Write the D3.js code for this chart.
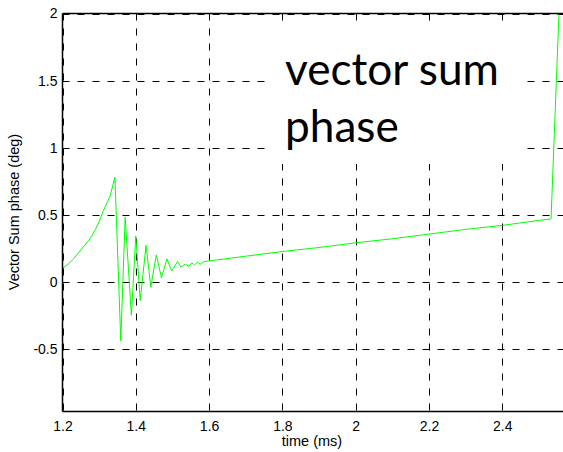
<!DOCTYPE html>
<html>
<head>
<meta charset="utf-8">
<script src="https://cdn.jsdelivr.net/npm/d3@7"></script>
<style>
  html, body { margin: 0; padding: 0; background: #fff; }
  svg { display: block; }
</style>
</head>
<body>
<svg id="chart" width="563" height="452"></svg>
<script>
// Vector sum phase over time
const timeMs = [
  1.200, 1.215, 1.230, 1.245, 1.260, 1.275, 1.290, 1.300, 1.310, 1.320, 1.330, 1.343,
  1.359, 1.371, 1.388, 1.400, 1.412, 1.428, 1.441, 1.456, 1.470, 1.485, 1.498, 1.514,
  1.523, 1.535, 1.545, 1.553, 1.560, 1.568, 1.576, 1.585, 1.600, 1.700, 1.800, 1.900,
  2.000, 2.100, 2.200, 2.300, 2.400, 2.500, 2.533, 2.5546
];
const phaseDeg = [
  0.10, 0.13, 0.17, 0.22, 0.27, 0.32, 0.39, 0.45, 0.52, 0.58, 0.64, 0.78,
  -0.44, 0.48, -0.25, 0.34, -0.14, 0.27, -0.04, 0.20, 0.03, 0.17, 0.08, 0.15,
  0.11, 0.13, 0.115, 0.14, 0.125, 0.145, 0.13, 0.15, 0.155, 0.19, 0.225, 0.255,
  0.29, 0.32, 0.355, 0.39, 0.42, 0.457, 0.468, 2.0
];
const xTicks = [1.2, 1.4, 1.6, 1.8, 2, 2.2, 2.4];
const yTicks = [-0.5, 0, 0.5, 1, 1.5, 2];
const xDomain = [1.2, 2.6];
const yDomain = [-0.968, 2];
const titleLines = ["vector sum", "phase"];

(function () {
  const svg = d3.select("#chart");
  const W = 563;
  const padLeft = 62.5, padTop = 13.5, padBottom = 411.5;
  const pxPerMs = 366.5;

  const x = d3.scaleLinear().domain(xDomain).range([padLeft, padLeft + (xDomain[1] - xDomain[0]) * pxPerMs]);
  const y = d3.scaleLinear().domain(yDomain).range([padBottom, padTop]);

  const tickFont = "Liberation Sans, Arial, sans-serif";
  const fmt = d => String(d);

  // clip region for the plot
  svg.append("defs").append("clipPath").attr("id", "plotClip")
    .append("rect").attr("x", padLeft).attr("y", padTop - 1)
    .attr("width", W - padLeft).attr("height", padBottom - padTop + 1);

  const plot = svg.append("g").attr("clip-path", "url(#plotClip)");

  // dashed grid
  const dash = "7,8";
  plot.selectAll("line.vg").data(xTicks).join("line")
    .attr("class", "vg")
    .attr("x1", d => Math.round(x(d)) + 0.5).attr("x2", d => Math.round(x(d)) + 0.5)
    .attr("y1", padTop).attr("y2", padBottom)
    .attr("stroke", "#000").attr("stroke-width", 1).attr("stroke-dasharray", dash);
  plot.selectAll("line.hg").data(yTicks).join("line")
    .attr("class", "hg")
    .attr("x1", padLeft).attr("x2", W)
    .attr("y1", d => Math.round(y(d)) + 0.5).attr("y2", d => Math.round(y(d)) + 0.5)
    .attr("stroke", "#000").attr("stroke-width", 1).attr("stroke-dasharray", dash);

  // data line
  const line = d3.line().x((d, i) => x(timeMs[i])).y(d => y(d));
  plot.append("path")
    .attr("d", line(phaseDeg))
    .attr("fill", "none")
    .attr("stroke", "#00ff00")
    .attr("stroke-width", 1);

  // plot frame: left, bottom and top edges
  svg.append("line").attr("x1", padLeft).attr("x2", padLeft).attr("y1", padTop).attr("y2", padBottom)
    .attr("stroke", "#000").attr("stroke-width", 1.5);
  svg.append("line").attr("x1", padLeft).attr("x2", W).attr("y1", padBottom).attr("y2", padBottom)
    .attr("stroke", "#000").attr("stroke-width", 1.5);
  svg.append("line").attr("x1", padLeft).attr("x2", W).attr("y1", padTop).attr("y2", padTop)
    .attr("stroke", "#000").attr("stroke-width", 1.5);

  // tick labels
  const xAxis = d3.axisBottom(x).tickValues(xTicks).tickSize(0).tickPadding(10).tickFormat(fmt);
  const gx = svg.append("g").attr("transform", `translate(0,${padBottom})`).call(xAxis);
  gx.select(".domain").remove();
  gx.selectAll("text").attr("font-family", tickFont).attr("font-size", 14).attr("fill", "#000");

  const yAxis = d3.axisLeft(y).tickValues(yTicks).tickSize(0).tickPadding(5).tickFormat(fmt);
  const gy = svg.append("g").attr("transform", `translate(${padLeft},0)`).call(yAxis);
  gy.select(".domain").remove();
  gy.selectAll("text").attr("font-family", tickFont).attr("font-size", 14).attr("fill", "#000");

  // axis titles
  svg.append("text").attr("x", 312).attr("y", 446)
    .attr("text-anchor", "middle").attr("font-family", tickFont).attr("font-size", 14.5)
    .text("time (ms)");
  svg.append("text").attr("transform", "translate(19,212) rotate(-90)")
    .attr("text-anchor", "middle").attr("font-family", tickFont).attr("font-size", 14.5)
    .text("Vector Sum phase (deg)");

  // annotation box
  svg.append("rect").attr("x", 266).attr("y", 28).attr("width", 257).attr("height", 136)
    .attr("fill", "#fff");
  const title = svg.append("g");
  titleLines.forEach((t, i) => {
    title.append("text")
      .attr("x", 285).attr("y", 85 + i * 57)
      .attr("font-family", "Lato, 'Open Sans', sans-serif")
      .attr("font-size", 46).attr("fill", "#000")
      .text(t);
  });
  // size the annotation so its first line spans the intended width
  const wNow = title.select("text").node().getComputedTextLength();
  title.selectAll("text").attr("font-size", 46 * 214 / wNow);
})();
</script>
</body>
</html>
